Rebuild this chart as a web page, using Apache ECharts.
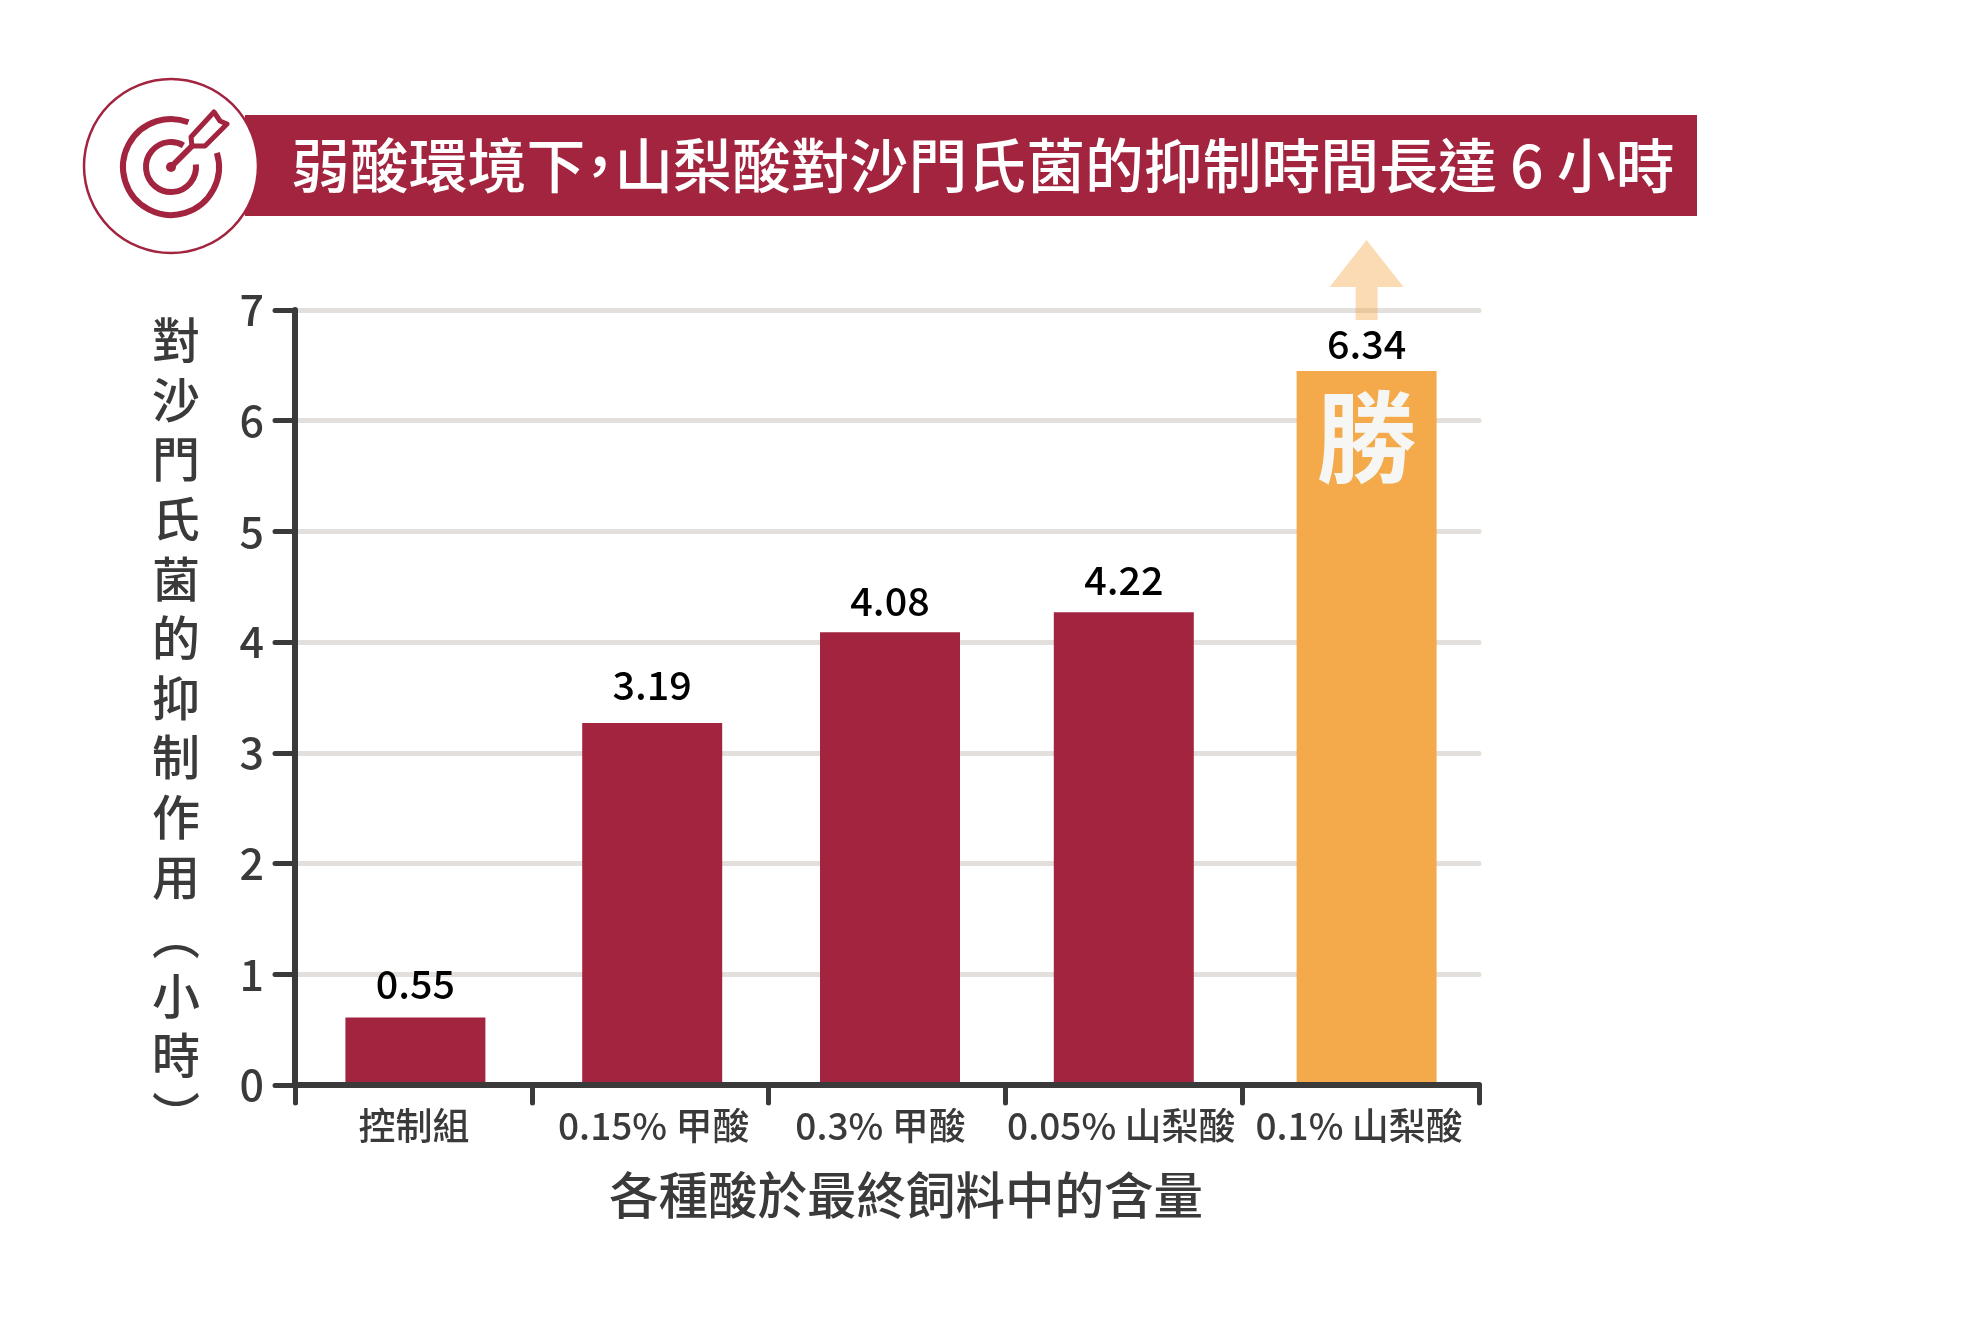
<!DOCTYPE html>
<html>
<head>
<meta charset="utf-8">
<title>弱酸環境下，山梨酸對沙門氏菌的抑制時間長達 6 小時</title>
<style>
  html, body { margin: 0; background: #fff; }
  #chart { width: 1980px; height: 1320px; }
</style>
<script src="https://cdn.jsdelivr.net/npm/echarts@6/dist/echarts.min.js"></script>
</head>
<body>
<div id="chart"></div>
<script>
const FONT = '"Noto Sans CJK TC", "Noto Sans", sans-serif'
const RED = '#a2243f'
const ORANGE = '#f4aa4a'
const DARK = '#3a3a3a'

// 圖表資料
const categories = ['控制組', '0.15% 甲酸', '0.3% 甲酸', '0.05% 山梨酸', '0.1% 山梨酸']
// 圖上印的數字
const printedValues = ['0.55', '3.19', '4.08', '4.22', '6.34']
// 柱子實際畫到的高度（照圖讀取，和印的數字略有出入）
const barHeights = [0.61, 3.27, 4.09, 4.27, 6.45]
const winnerMark = [null, null, null, null, 6.45]
const yTicks = [0, 1, 2, 3, 4, 5, 6, 7]

const titleText = '弱酸環境下{c|，}山梨酸對沙門氏菌的抑制時間長達 6 小時'
const yName = ['對', '沙', '門', '氏', '菌', '的', '抑', '制', '作', '用', '︵', '小', '時', '︶']
const xName = '各種酸於最終飼料中的含量'

// 原圖的柱子和標籤沒有完全對齊類目中心，這裡微調（px）
const barNudge = [2, 2, 3, 0, 6]
const labelGap = [14, 18, 11, 13, 7]
const tickLabelPadding = [[0, 0, 0, 1], [0, 0, 0, 7], [0, 13, 0, 0], [0, 5, 0, 0], [0, 3, 0, 0]]

const tickLabelStyle = { color: DARK, fontSize: 37, fontFamily: FONT, fontWeight: 500 }
const tickLabelRich = {}
tickLabelPadding.forEach((padding, i) => {
  tickLabelRich['t' + i] = { ...tickLabelStyle, padding }
})

const chart = echarts.init(document.getElementById('chart'))

chart.setOption({
  animation: false,
  backgroundColor: '#fff',
  textStyle: { fontFamily: FONT },
  title: {
    text: titleText,
    left: 286,
    top: 131,
    textStyle: {
      color: '#fff',
      fontFamily: FONT,
      fontWeight: 500,
      fontSize: 58.85,
      rich: {
        c: { color: '#fff', fontFamily: FONT, fontWeight: 500, fontSize: 58.85, width: 29, align: 'center' }
      }
    }
  },
  grid: { left: 295, top: 310, width: 1184, height: 775 },
  xAxis: {
    type: 'category',
    data: categories,
    z: 3,
    name: xName,
    nameLocation: 'middle',
    nameGap: 85,
    nameTextStyle: { color: DARK, fontSize: 49.5, fontFamily: FONT, fontWeight: 500, padding: [0, 0, 0, 38] },
    axisLine: { lineStyle: { color: DARK, width: 6, cap: 'round' } },
    axisTick: { show: true, length: 18, lineStyle: { color: DARK, width: 5, cap: 'round' } },
    axisLabel: {
      ...tickLabelStyle,
      margin: 22,
      interval: 0,
      formatter: (value, index) => `{t${index}|${value}}`,
      rich: tickLabelRich
    },
    splitLine: { show: false }
  },
  yAxis: {
    type: 'value',
    min: yTicks[0],
    max: yTicks[yTicks.length - 1],
    interval: 1,
    // 多一行空白，讓直排文字往下半行
    name: '\n' + yName.join('\n'),
    nameLocation: 'middle',
    nameRotate: 0,
    nameGap: 95,
    nameTextStyle: { color: DARK, fontSize: 48, lineHeight: 59.6, fontFamily: FONT, fontWeight: 500 },
    axisLine: { show: true, lineStyle: { color: DARK, width: 6, cap: 'round' } },
    axisTick: { show: true, length: 20, lineStyle: { color: DARK, width: 5, cap: 'round' } },
    axisLabel: { color: DARK, fontSize: 43, fontWeight: 500, fontFamily: FONT, margin: 31 },
    splitLine: { lineStyle: { color: '#e3dfdc', width: 5, cap: 'round' } }
  },
  series: [
    {
      type: 'pictorialBar',
      symbol: 'rect',
      symbolPosition: 'start',
      symbolSize: [140, '100%'],
      barWidth: 140,
      z: 2,
      data: barHeights.map((value, i) => ({
        value,
        symbolOffset: [barNudge[i], 0],
        itemStyle: { color: i === barHeights.length - 1 ? ORANGE : RED },
        label: { distance: labelGap[i], offset: [barNudge[i], 0] }
      })),
      label: {
        show: true,
        position: 'top',
        color: '#000',
        fontSize: 39.5,
        fontWeight: 500,
        fontFamily: FONT,
        formatter: (p) => printedValues[p.dataIndex]
      },
      markPoint: {
        silent: true,
        symbol: 'path://M37 0 L74 47 L48 47 L48 80 L26 80 L26 47 L0 47 Z',
        symbolSize: [74, 80],
        symbolOffset: [barNudge[4], -30],
        itemStyle: { color: ORANGE, opacity: 0.42 },
        label: { show: false },
        data: [{ coord: [categories[4], 7] }]
      }
    },
    {
      // 「勝」字掛在最後一根柱子裡
      type: 'bar',
      barWidth: 140,
      silent: true,
      z: 3,
      itemStyle: { color: 'transparent' },
      data: winnerMark,
      label: {
        show: true,
        position: 'insideTop',
        distance: 16,
        offset: [barNudge[4], 0],
        color: '#f6f7f5',
        fontSize: 100,
        fontWeight: 700,
        fontFamily: FONT,
        formatter: '勝'
      }
    }
  ],
  graphic: [
    // 標題色帶
    { type: 'rect', z: -1, shape: { x: 245, y: 115, width: 1452, height: 101 }, style: { fill: RED } },
    // 靶心圖示
    { type: 'circle', shape: { cx: 171, cy: 166, r: 87 }, style: { fill: '#fff', stroke: RED, lineWidth: 2.5 } },
    { type: 'arc', shape: { cx: 171, cy: 167, r: 48, startAngle: -0.3, endAngle: -1.2, clockwise: true }, style: { fill: null, stroke: RED, lineWidth: 6 } },
    { type: 'arc', shape: { cx: 171, cy: 167, r: 25, startAngle: -0.1, endAngle: -1.05, clockwise: true }, style: { fill: null, stroke: RED, lineWidth: 6 } },
    { type: 'circle', shape: { cx: 171, cy: 167, r: 5 }, style: { fill: RED } },
    { type: 'polyline', shape: { points: [[171, 167], [192, 146]] }, style: { stroke: RED, lineWidth: 6, fill: null } },
    { type: 'polygon', shape: { points: [[191, 137], [214, 112], [220, 121], [227, 124], [205, 146], [192, 146]] }, style: { fill: '#fff', stroke: RED, lineWidth: 5, lineJoin: 'round' } }
  ]
})

window.addEventListener('resize', () => chart.resize())
</script>
</body>
</html>
